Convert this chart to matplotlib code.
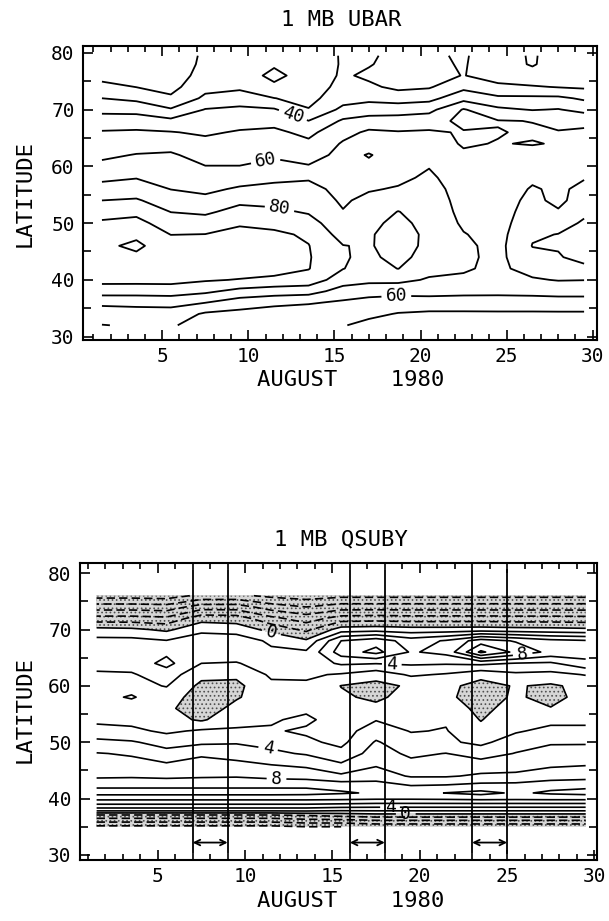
import numpy as np
import matplotlib
matplotlib.use("Agg")
import matplotlib.pyplot as plt
from matplotlib.ticker import MultipleLocator

plt.rcParams['font.family'] = ['DejaVu Sans Mono']
plt.rcParams['hatch.color'] = '#505050'
plt.rcParams['hatch.linewidth'] = 0.7

# ---------------- 1 MB UBAR (zonal wind, m/s) ----------------
# grid columns (day of August) and rows (latitude)
ubar_days = [1.5, 3.5, 5.5, 7.5, 9.5, 11.5, 13.5, 15.5, 17, 18.7, 20.5, 22.5, 24.5, 26.5, 28, 29.5]
ubar_lats = [32, 34, 36, 38, 40, 42, 44, 46, 48, 50, 52, 54, 56, 58, 60, 62, 64, 66, 68, 70, 72, 74, 76, 78, 79.5]
ubar_levels = [10, 20, 30, 50, 70, 90, 100]
ubar_label_levels = [40, 60, 80]

# one profile per day, south -> north
u_d01 = [59.7, 65.3, 72, 84.7, 93, 96, 97.5, 98.5, 96.5, 91.5, 86, 80, 73.5, 68, 62.5, 58, 54.5, 51, 43.5, 38, 30, 23.5, 16, 12, 10.5]
u_d03 = [61, 66, 72.5, 84.5, 93, 96.5, 98.5, 101.5, 98.5, 93, 87.5, 81, 75, 69.6, 65, 60.5, 55.5, 51.5, 44.5, 37, 27.5, 19.8, 15, 12, 10.5]
u_d05 = [61, 66, 73, 85, 93, 95.5, 96.5, 95.5, 89.8, 85, 79.8, 75, 69.8, 66.5, 63.5, 61, 57, 50.5, 42.5, 31, 21.5, 17, 14, 12, 11]
u_d07 = [56, 58.6, 70.2, 82, 91, 94.5, 96, 94, 90.2, 84, 78.5, 73, 67.5, 63.5, 60.2, 57, 53, 48.5, 45, 40.5, 32, 27, 24.5, 23, 22.5]
u_d09 = [52, 57, 65, 77, 89.5, 95, 96.5, 96.5, 95, 88, 83, 78, 71.5, 65, 60.2, 57, 54, 51, 46, 42, 35, 28, 24, 23, 22.5]
u_d11 = [50.8, 55, 62.5, 75, 87.5, 94.5, 96, 95.5, 92, 87, 82, 77, 72.5, 68, 63, 58.5, 55, 52, 47, 41, 30.2, 21.5, 18, 21, 22]
u_d13 = [50.4, 54, 61, 74, 86, 90.4, 90.8, 90.3, 88.5, 84, 79, 76, 73, 69, 60.6, 56.5, 52, 47.5, 40.2, 30.5, 27, 25, 23.5, 23.5, 24]
u_d15 = [50.5, 55, 58.5, 66, 74.5, 80.3, 80.8, 80.3, 76, 73, 70.5, 68.5, 67, 65, 63.5, 62.5, 61, 57, 51.5, 42.5, 36, 33, 31.5, 31, 31]
u_d17 = [47.5, 52, 56.5, 64, 72.5, 76, 78, 79, 79, 78, 76, 73, 69, 65, 61.5, 59.5, 63, 61.5, 55, 44, 38, 32, 28, 30.8, 32]
u_d18 = [46, 49.5, 55, 63.5, 72.5, 80.2, 83, 84.5, 84, 82, 80.2, 76.5, 71, 67.5, 65, 63.5, 62.5, 60.5, 55, 45, 36, 27.5, 26, 26, 26]
u_d20 = [45.5, 48.5, 55, 64, 69, 73, 76, 77.5, 78, 77.5, 77, 76, 74.5, 72, 69.5, 66.5, 63.5, 61, 56, 47, 37, 29, 27, 27.5, 28]
u_d22 = [45.5, 48.5, 55, 63, 68.5, 71, 72, 72, 70.5, 68.5, 67, 66, 65, 64, 62.5, 61, 59.3, 59.4, 62.5, 60.8, 46.5, 37.5, 30.3, 31, 31.5]
u_d24 = [45, 48.5, 55.5, 62.5, 66.5, 68, 67.5, 67, 66.5, 66, 66, 65.5, 65, 64, 62.5, 61, 60.3, 59.6, 60.5, 52, 42, 32, 26, 22.5, 22]
u_d26 = [45, 48.5, 55.5, 63, 69, 73.5, 77.5, 80.3, 79, 76.5, 74, 72.5, 70.8, 68.5, 66, 62.5, 59.6, 61, 59.8, 49.5, 42, 31, 22, 19.5, 19.5]
u_d28 = [45, 48.5, 56, 63.5, 70.5, 75, 79.5, 80.5, 80.2, 77, 71, 67.5, 68.5, 68, 66, 63.5, 60.5, 61, 55, 50.5, 42, 29.5, 25, 22.5, 22]
u_d29 = [45, 48.5, 56, 63.5, 70.2, 78.5, 82, 83, 82.5, 81, 78.5, 75, 72, 69.5, 66.5, 64, 62.5, 61.5, 57.5, 47, 38.5, 28.5, 26, 26, 26]

# ---------------- 1 MB QSUBY (PV gradient) ----------------
qsuby_days = [1.5, 3.5, 5.5, 7.5, 9.5, 11.5, 13.5, 15.5, 17.5, 19.5, 21.5, 23.5, 25.5, 27.5, 29.5]
qsuby_lats = [35, 36, 37, 38, 39, 40, 41, 42, 44, 46, 48, 50, 52, 54, 56, 58, 60, 62, 64, 66, 68, 70, 72, 74, 76]
qsuby_levels = [-10, -8, -6, -4, -2, 2, 6, 10, 12]
qsuby_label_levels = [0, 4, 8]

q_d01 = [-8.5, -5.5, -2.5, 3.0, 6.0, 8.6, 10.7, 9.9, 7.6, 6.8, 6.1, 4.5, 2.8, 1.5, 1.0, 1.5, 1.4, 1.7, 2.7, 3.2, 2.6, 0.6, -3.3, -7, -10.8]
q_d03 = [-8.5, -5.5, -2.5, 3.0, 6.0, 8.6, 10.7, 9.9, 7.7, 6.6, 5.8, 4.2, 2.5, 1.3, 1.2, 2.15, 1.4, 1.8, 2.8, 3.4, 2.6, 0.4, -3.3, -7, -10.8]
q_d05 = [-8.5, -5.5, -2.5, 3.0, 6.0, 8.6, 10.7, 9.9, 7.5, 6.3, 4.6, 3.3, 1.6, 0.8, 0.4, 1.0, 2.1, 3.0, 4.6, 3.6, 2.1, -0.4, -3.6, -7.2, -11]
q_d07 = [-8.5, -5.5, -2.5, 3.0, 6.0, 8.6, 10.7, 9.9, 7.7, 6.7, 5.7, 3.6, 2.3, -0.3, -1.1, -1.0, -0.5, 0.6, 2.0, 3.0, 3.3, 1.4, -0.8, -5, -9.5]
q_d09 = [-8.5, -5.5, -2.5, 3.0, 6.0, 8.6, 10.7, 9.9, 7.8, 6.5, 5.2, 3.8, 2.2, 1.5, 0.6, -0.2, -0.5, 0.4, 1.9, 2.8, 3.2, 1.1, -1.0, -5, -9.5]
q_d11 = [-8.5, -5.5, -2.5, 3.0, 6.0, 8.6, 10.7, 9.9, 7.4, 6.0, 4.4, 3.4, 2.2, 1.8, 1.4, 1.2, 1.6, 2.3, 2.7, 2.4, 1.6, -0.6, -3.5, -7, -10.5]
q_d13 = [-8, -5, -2, 3.0, 6.0, 8.6, 10.6, 9.9, 7.2, 5.6, 3.8, 2.4, 1.7, 2.4, 1.6, 1.4, 1.7, 2.3, 2.8, 2.3, 0.3, -2.5, -5, -8, -11]
q_d15 = [-8, -5, -1.5, 2.6, 5.8, 8.5, 10.2, 9.6, 6.4, 4.3, 2.6, 1.5, 1.2, 1.0, 0.6, 0.3, -0.05, 1.8, 4.3, 7.0, 6.0, 0.9, -3.2, -7, -10.5]
q_d17 = [-7.5, -4.5, -1.0, 2.6, 5.6, 8.3, 9.8, 9.2, 7.0, 5.8, 4.9, 4.2, 3.0, 1.9, 0.5, -0.4, -0.6, 0.8, 4.1, 8.6, 7.2, 1.1, -3.0, -7, -10.5]
q_d19 = [-7.5, -4.5, -1.0, 2.6, 5.6, 8.3, 9.3, 8.4, 5.8, 4.6, 3.6, 2.7, 1.9, 1.6, 1.4, 0.8, 0.3, 2.3, 4.3, 5.8, 5.0, 0.8, -3.2, -7, -10.5]
q_d21 = [-7.5, -4.5, -1.0, 2.6, 5.6, 8.4, 10.05, 8.6, 5.8, 4.7, 4.05, 2.3, 2.1, 1.8, 1.2, 0.4, 0.5, 1.8, 4.2, 6.6, 6.2, 0.8, -3.2, -7, -10.5]
q_d23 = [-7.5, -4.5, -1.0, 2.6, 5.6, 8.6, 10.6, 9.0, 6.3, 5.0, 3.0, 1.6, 0.6, -0.1, -0.6, -0.9, -0.7, 0.6, 4.5, 12.4, 9.0, 0.9, -3.2, -7, -10.5]
q_d25 = [-7.5, -4.5, -1.0, 2.6, 5.6, 8.5, 9.7, 9.0, 6.5, 5.0, 4.1, 2.9, 1.8, 1.5, 0.9, 0.3, 0.15, 1.6, 3.9, 9.5, 7.8, 0.7, -3.3, -7, -10.5]
q_d27 = [-7.5, -4.5, -1.0, 2.6, 5.6, 8.6, 10.3, 9.6, 7.0, 5.7, 4.7, 3.8, 2.5, 1.5, 0.1, -0.7, -0.3, 1.4, 3.7, 7.4, 6.6, 0.6, -3.3, -7, -10.5]
q_d29 = [-7.5, -4.5, -1.0, 2.6, 5.6, 8.6, 10.6, 9.8, 7.2, 5.9, 4.8, 3.8, 2.4, 1.6, 1.1, 0.8, 0.6, 2.1, 5.4, 7.0, 6.2, 0.4, -3.4, -7, -10.5]

# periods marked under the QSUBY panel
event_start = [7, 16, 23]
event_end = [9, 18, 25]

ubar = np.column_stack([u_d01, u_d03, u_d05, u_d07, u_d09, u_d11, u_d13, u_d15,
                        u_d17, u_d18, u_d20, u_d22, u_d24, u_d26, u_d28, u_d29])
qsuby = np.column_stack([q_d01, q_d03, q_d05, q_d07, q_d09, q_d11, q_d13, q_d15,
                         q_d17, q_d19, q_d21, q_d23, q_d25, q_d27, q_d29])


def style_axes(ax, xlim, ylim):
    ax.set_xlim(*xlim)
    ax.set_ylim(*ylim)
    ax.xaxis.set_major_locator(MultipleLocator(5))
    ax.xaxis.set_minor_locator(MultipleLocator(1))
    ax.yaxis.set_major_locator(MultipleLocator(10))
    ax.yaxis.set_minor_locator(MultipleLocator(5))
    ax.tick_params(which='both', direction='in', top=True, right=True,
                   labelsize=14, width=1.2)
    ax.tick_params(which='major', length=7)
    ax.tick_params(which='minor', length=4)
    ax.tick_params(axis='y', which='minor', length=6)
    ax.tick_params(axis='x', pad=5)
    ax.tick_params(axis='y', pad=6)
    for sp in ax.spines.values():
        sp.set_linewidth(1.5)


fig = plt.figure(figsize=(6.09, 9.21), dpi=100)

# top panel
ax1 = fig.add_axes([0.1363, 0.6308, 0.8440, 0.3192])
ax1.contour(ubar_days, ubar_lats, ubar, levels=ubar_levels,
            colors='k', linewidths=1.3)
cs1 = ax1.contour(ubar_days, ubar_lats, ubar, levels=ubar_label_levels,
                  colors='k', linewidths=1.3)
ax1.clabel(cs1, inline=True, fmt='%d', fontsize=13,
           manual=[(12.5, 68.3), (11.0, 61.1), (11.8, 52.4), (18.6, 36.9)])
style_axes(ax1, (0.4, 30.25), (29.4, 81.2))
fig.text(0.56, 0.978, '1 MB UBAR', ha='center', va='center', fontsize=16)
fig.text(0.041, 0.79, 'LATITUDE', rotation=90, ha='center', va='center', fontsize=16)
fig.text(0.575, 0.587, 'AUGUST    1980', ha='center', va='center', fontsize=16)

# bottom panel
ax2 = fig.add_axes([0.1314, 0.0662, 0.8489, 0.3225])
ax2.contourf(qsuby_days, qsuby_lats, qsuby, levels=[-100, 0],
             colors=['#d6d6d6'], hatches=['....'])
ax2.contour(qsuby_days, qsuby_lats, qsuby, levels=qsuby_levels,
            colors='k', linewidths=1.2, negative_linestyles=(0, (5, 2.5)))
cs2 = ax2.contour(qsuby_days, qsuby_lats, qsuby, levels=qsuby_label_levels,
                  colors='k', linewidths=1.2)
ax2.clabel(cs2, inline=True, fmt='%d', fontsize=13,
           manual=[(11.5, 69.4), (18.4, 63.8), (25.9, 65.5), (11.3, 48.6),
                   (11.8, 43.5), (18.3, 38.3), (19.2, 37.4)])
for d0, d1 in zip(event_start, event_end):
    ax2.plot([d0, d0], [30.4, 80.5], color='k', lw=1.3)
    ax2.plot([d1, d1], [30.4, 80.5], color='k', lw=1.3)
    ax2.annotate('', xy=(d1, 32.2), xytext=(d0, 32.2),
                 arrowprops=dict(arrowstyle='<->', lw=1.3, color='k',
                                 shrinkA=0, shrinkB=0, mutation_scale=10))
style_axes(ax2, (0.55, 30.15), (29.1, 81.8))
fig.text(0.56, 0.414, '1 MB QSUBY', ha='center', va='center', fontsize=16)
fig.text(0.041, 0.23, 'LATITUDE', rotation=90, ha='center', va='center', fontsize=16)
fig.text(0.575, 0.022, 'AUGUST    1980', ha='center', va='center', fontsize=16)

fig.savefig('out.png', dpi=100)
